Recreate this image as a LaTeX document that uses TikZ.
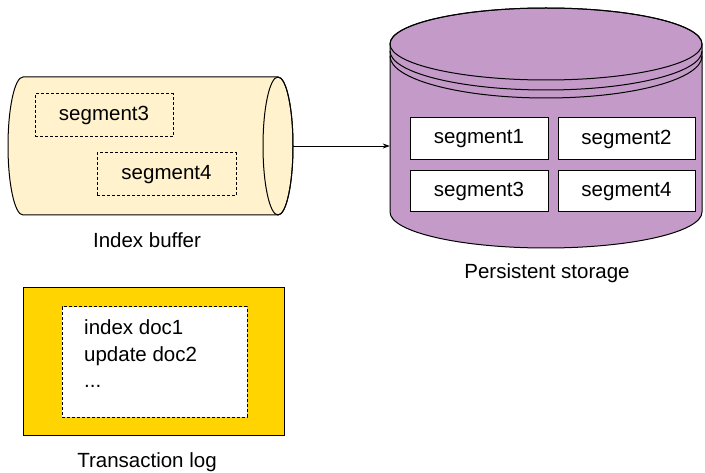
\documentclass[tikz,border=0pt]{standalone}
\usepackage{fontspec}
\setmainfont{Liberation Sans}
\usetikzlibrary{arrows.meta}
\definecolor{bufcol}{HTML}{FFF2CC}
\definecolor{storecol}{HTML}{C49BC8}
\definecolor{logcol}{HTML}{FFD400}
\tikzset{
  every node/.style={font=\fontsize{20.5}{24}\selectfont, inner sep=0pt},
  shape line/.style={draw=black, line width=1pt},
  dashbox/.style={draw=black, line width=1pt, dash pattern=on 3pt off 2pt, minimum height=43pt},
  segbox/.style={draw=black, fill=white, line width=1pt, minimum width=138pt, minimum height=42pt},
}
\begin{document}
\begin{tikzpicture}[x=1pt,y=1pt]
\useasboundingbox (0,0) rectangle (705,472);
% Index buffer cylinder
\filldraw[shape line, fill=bufcol] (23,395) -- (278,395) arc[start angle=90,end angle=-90,x radius=15,y radius=69] -- (23,257) arc[start angle=270,end angle=90,x radius=15,y radius=69] -- cycle;
\draw[shape line] (278,326) ellipse[x radius=15,y radius=69];
\node[minimum width=285pt, minimum height=138pt] (buf) at (150.5,326) {};
\node[dashbox, minimum width=138pt] (bs3) at (104,356.5) {segment3};
\node[dashbox, minimum width=139pt] (bs4) at (166.5,297.5) {segment4};
\node (buflabel) at (147,232) {Index buffer};
% Persistent storage cylinder
\filldraw[shape line, fill=storecol] (390,428) -- (390,260) arc[start angle=180,end angle=360,x radius=156,y radius=36] -- (702,428) arc[start angle=0,end angle=180,x radius=156,y radius=36] -- cycle;
\draw[shape line] (546,428) ellipse[x radius=156,y radius=36];
\draw[shape line] (390,421) arc[start angle=180,end angle=360,x radius=156,y radius=39];
\draw[shape line] (390,416) arc[start angle=180,end angle=360,x radius=156,y radius=42];
\node[minimum width=312pt, minimum height=240pt] (store) at (546,344) {};
\node[segbox] (s1) at (479,333) {segment1};
\node[segbox, minimum width=137pt] (s2) at (626.5,333) {segment2};
\node[segbox, minimum height=41pt] (s3) at (479,280.5) {segment3};
\node[segbox, minimum width=137pt, minimum height=41pt] (s4) at (626.5,280.5) {segment4};
\node (storelabel) at (547,199) {Persistent storage};
% arrow
\draw[line width=0.8pt, -{Stealth[length=7pt,width=5pt]}] (buf.east) -- (buf.east -| store.west);
% Transaction log
\node[draw=black, line width=1pt, fill=logcol, minimum width=261pt, minimum height=147pt] (log) at (153.5,110.5) {};
\node[dashbox, fill=white, minimum width=185pt, minimum height=110pt] (loginner) at (154.5,110) {};
\node[anchor=base west] (l1) at (84,137) {index doc1};
\node[anchor=base west] (l2) at (84,110.5) {update doc2};
\node[anchor=base west] (l3) at (84,84.5) {...};
\node (loglabel) at (147,10) {Transaction log};
\end{tikzpicture}
\end{document}
